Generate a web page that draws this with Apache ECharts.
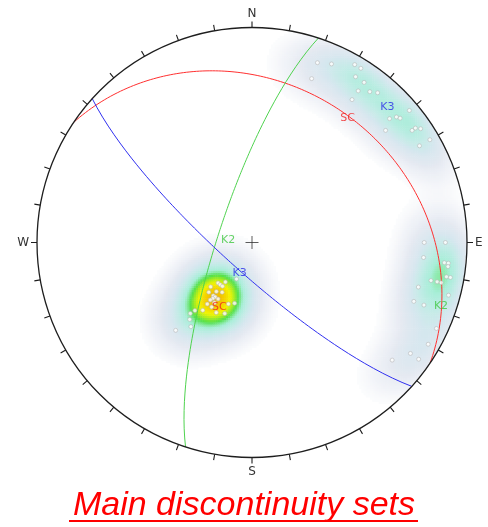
<!DOCTYPE html>
<html>
<head>
<meta charset="utf-8">
<script src="https://cdn.jsdelivr.net/npm/echarts@6/dist/echarts.min.js"></script>
<style>
  html, body { margin: 0; padding: 0; background: #fff; }
  #chart { width: 488px; height: 527px; }
</style>
</head>
<body>
<div id="chart"></div>
<script>
// Main discontinuity planes: dip direction and dip (degrees)
const setNames = ['SC', 'K2', 'K3'];
const planeDipDir = [34, 288, 222];
const planeDip = [27, 77, 79];

// Measured poles as [trend, plunge] (degrees), lower hemisphere
const polesSC = [
  [220, 70], [217, 70], [214, 70], [214, 72], [223, 67], [211, 68], [221, 65],
  [216, 65], [214, 65], [215, 64], [201, 65], [196, 66], [216, 58], [212, 61],
  [207, 60], [201, 61], [220, 56], [221, 54], [219, 52], [216, 50], [221, 45],
  [203, 75], [216, 61], [212, 63], [216, 67], [216, 63], [211, 65]
];
const polesK2 = [
  [90, 21], [90, 11], [95, 21], [96, 11], [96, 9], [97, 9], [100, 9], [100, 7],
  [102, 16], [102, 13], [102, 11], [105, 21], [105, 6], [110, 21], [110, 16],
  [115, 6], [120, 6], [125, 11], [125, 6], [130, 16]
];
const polesK3 = [
  [20, 12], [24, 10], [30, 5], [32, 5], [20, 20], [32, 10], [35, 10], [35, 15],
  [38, 12], [40, 10], [35, 20], [50, 5], [48, 15], [49, 12], [50, 11], [50, 20],
  [55, 10], [55, 8], [56, 6], [60, 5], [60, 11]
];

const compassLabels = { 0: 'N', 90: 'E', 180: 'S', 270: 'W' };
const titleText = 'Main discontinuity sets';

// ---- styling ----
const setColors = ['#ff3030', '#4fd34f', '#3030f0'];
const labelColors = ['#f02020', '#40c840', '#2a2ae8'];
// label anchor along each great circle (azimuth) and pixel offsets
const circleLabelAz = [37, 276, 204];
const circleLabelOffset = [[0, 3], [11, 1], [0, 3]];
const poleLabelOffset = [[7, 6], [9, 5], [6, 8]];

const CX = 252, CY = 242.5, R = 215;
const D2R = Math.PI / 180;

// Schmidt (equal-area) lower-hemisphere projection of a line
function project(trend, plunge) {
  const r = Math.SQRT2 * Math.sin((90 - plunge) * D2R / 2);
  return [r * Math.sin(trend * D2R), r * Math.cos(trend * D2R)];
}
function unitVec(trend, plunge) {
  const t = trend * D2R, p = plunge * D2R;
  return [Math.cos(p) * Math.sin(t), Math.cos(p) * Math.cos(t), Math.sin(p)];
}
function apparentDip(dip, beta) {
  return Math.atan(Math.tan(dip * D2R) * Math.cos(beta * D2R)) / D2R;
}
function greatCircle(dd, dip) {
  const pts = [];
  for (let b = -90; b <= 90; b += 1) pts.push(project(dd + b, apparentDip(dip, b)));
  return pts;
}

const poleSets = [polesSC, polesK2, polesK3];
const allPoles = polesSC.concat(polesK2, polesK3).map(p => unitVec(p[0], p[1]));

// Kernel density of poles on the lower hemisphere (Fisher kernel), on a grid
const N = 200, K = 60;
const half = 1 / N;
const cells = [];
let dmax = 0;
for (let j = 0; j < N; j++) {
  for (let i = 0; i < N; i++) {
    const x = -1 + (i + 0.5) * 2 / N, y = -1 + (j + 0.5) * 2 / N;
    const r = Math.hypot(x, y);
    if (r + 0.5 * half > 1) continue;
    const th = 2 * Math.asin(r / Math.SQRT2), az = Math.atan2(x, y);
    const v = [Math.sin(th) * Math.sin(az), Math.sin(th) * Math.cos(az), Math.cos(th)];
    let s = 0;
    for (const p of allPoles) {
      const d = v[0] * p[0] + v[1] * p[1] + v[2] * p[2];
      s += Math.exp(K * (d - 1));
    }
    if (s > dmax) dmax = s;
    cells.push([i, j, s]);
  }
}
const heatData = cells.filter(c => c[2] > 0.015 * dmax);

// colour ramp for density shading
const stops = [
  [0, '#ffffff'], [0.015, '#fbfcfd'], [0.05, '#f1f3f8'], [0.12, '#e4e9f1'],
  [0.22, '#d7e7ef'], [0.33, '#c2ebe6'], [0.45, '#a8eed8'], [0.52, '#84e89c'],
  [0.59, '#52e04c'], [0.69, '#a6ec22'], [0.8, '#f4f400'], [1, '#f2b800']
];
function hex(c) { return [1, 3, 5].map(k => parseInt(c.substr(k, 2), 16)); }
function ramp(n) {
  const out = [];
  for (let k = 0; k < n; k++) {
    const f = k / (n - 1);
    let a = 0;
    while (a < stops.length - 2 && f > stops[a + 1][0]) a++;
    const [f0, c0] = stops[a], [f1, c1] = stops[a + 1];
    const t = Math.min(1, Math.max(0, (f - f0) / (f1 - f0)));
    const A = hex(c0), B = hex(c1);
    out.push('rgb(' + A.map((v, q) => Math.round(v + (B[q] - v) * t)).join(',') + ')');
  }
  return out;
}

const idx = Array.from({ length: N }, (_, k) => k);
const series = [];

series.push({
  type: 'heatmap', xAxisIndex: 0, yAxisIndex: 0, data: heatData,
  progressive: 0, z: 1, silent: true
});

// great circles and labels
setNames.forEach((name, s) => {
  series.push({
    type: 'line', xAxisIndex: 1, yAxisIndex: 1, z: 3,
    data: greatCircle(planeDipDir[s], planeDip[s]),
    showSymbol: false, smooth: false, silent: true,
    lineStyle: { color: setColors[s], width: 1 }
  });
  const beta = circleLabelAz[s] - planeDipDir[s];
  const lp = project(circleLabelAz[s], apparentDip(planeDip[s], beta));
  const pole = project(planeDipDir[s] + 180, 90 - planeDip[s]);
  series.push({
    type: 'scatter', xAxisIndex: 1, yAxisIndex: 1, z: 6, silent: true,
    symbolSize: 0,
    data: [
      { value: lp, label: { offset: circleLabelOffset[s] } },
      { value: pole, label: { offset: poleLabelOffset[s] } }
    ],
    label: {
      show: true, position: 'inside', formatter: name,
      color: labelColors[s], fontSize: 11, fontFamily: 'DejaVu Sans'
    }
  });
});

// measured poles
series.push({
  type: 'scatter', xAxisIndex: 1, yAxisIndex: 1, z: 4, silent: true,
  symbolSize: 4,
  data: poleSets.flat().map(p => project(p[0], p[1])),
  itemStyle: { color: '#ffffff', borderColor: '#b4b4b4', borderWidth: 0.7 }
});

// centre mark
series.push({
  type: 'scatter', xAxisIndex: 1, yAxisIndex: 1, z: 5, silent: true,
  symbol: 'path://M5,0L5,10M0,5L10,5', symbolSize: 13,
  data: [[0, 0]],
  itemStyle: { color: 'none', borderColor: '#333', borderWidth: 1 }
});

const gridBox = { left: CX - R, top: CY - R, width: 2 * R, height: 2 * R };

const option = {
  animation: false,
  backgroundColor: '#ffffff',
  title: {
    text: titleText, left: 'center', top: 484,
    textStyle: {
      color: '#ff0000', fontSize: 34, fontStyle: 'italic', fontWeight: 'normal',
      fontFamily: 'Liberation Sans'
    }
  },
  grid: [Object.assign({}, gridBox), Object.assign({}, gridBox)],
  xAxis: [
    { type: 'category', data: idx, gridIndex: 0, show: false },
    { type: 'value', min: -1, max: 1, gridIndex: 1, show: false }
  ],
  yAxis: [
    { type: 'category', data: idx, gridIndex: 0, show: false },
    { type: 'value', min: -1, max: 1, gridIndex: 1, show: false }
  ],
  polar: { center: [CX, CY], radius: R },
  angleAxis: {
    type: 'value', min: 0, max: 360, interval: 10, startAngle: 90, clockwise: true,
    z: 10,
    axisLine: { lineStyle: { color: '#1e1e1e', width: 1.3 } },
    axisTick: { show: true, inside: false, length: 6, lineStyle: { color: '#1e1e1e', width: 1.1 } },
    axisLabel: {
      margin: 8, color: '#333', fontSize: 12, fontFamily: 'DejaVu Sans',
      formatter: v => (v === 360 ? '' : (compassLabels[v] || ''))
    },
    splitLine: { show: false }
  },
  radiusAxis: { show: false, min: 0, max: 1, axisLine: { show: false }, splitLine: { show: false } },
  visualMap: {
    show: false, type: 'continuous', seriesIndex: 0, dimension: 2,
    min: 0, max: dmax, inRange: { color: ramp(61) }
  },
  graphic: [{
    type: 'rect', shape: { x: 69, y: 520, width: 349, height: 2 },
    style: { fill: '#ff0000' }, silent: true
  }],
  series: series
};

const chart = echarts.init(document.getElementById('chart'), null, { renderer: 'canvas' });
chart.setOption(option);
</script>
</body>
</html>
